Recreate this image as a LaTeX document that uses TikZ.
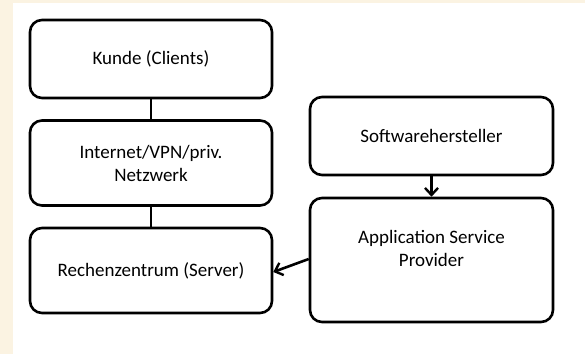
\documentclass[tikz,border=0pt]{standalone}
\usepackage{fontspec}
\setmainfont{Carlito}
\usetikzlibrary{arrows.meta}
\definecolor{cream}{RGB}{251,243,226}
\begin{document}
\begin{tikzpicture}[x=1pt,y=-1pt,
  box/.style={draw=black, line width=2.6pt, rounded corners=12pt, fill=white,
    minimum width=242pt, inner sep=0pt, align=center,
    font=\fontsize{19}{23}\selectfont},
  lbl/.style={inner sep=0pt, align=center, font=\fontsize{19}{23}\selectfont},
  conn/.style={line width=2.6pt},
  arr/.style={line width=2.6pt, -{Straight Barb[length=7pt,width=13pt,line width=2.4pt]}}]
\useasboundingbox (0,0) rectangle (585,354);
\fill[cream] (0,0) rectangle (585,354);
\fill[white] (13,3) rectangle (585,354);
\node[box, minimum height=78pt] (kunde) at (151,59) {Kunde (Clients)};
\node[box, minimum height=85pt] (net) at (151,163) {Internet/VPN/priv.\\Netzwerk};
\node[box, minimum height=85pt] (rz) at (151,270.5) {Rechenzentrum (Server)};
\node[box, minimum width=243pt, minimum height=78pt] (sw) at (431.5,136) {Softwarehersteller};
\node[box, minimum width=243pt, minimum height=124pt] (asp) at (431.5,260) {};
\node[lbl] (asptext) at ([yshift=12pt]asp.center) {Application Service\\Provider};
\draw[conn] (kunde.south) -- (net.north);
\draw[conn] (net.south) -- (rz.north);
\draw[arr] (sw.south) -- (asp.north);
\draw[arr] ([yshift=1pt]asp.west) -- ([yshift=-1.5pt]rz.east);
\end{tikzpicture}
\end{document}
